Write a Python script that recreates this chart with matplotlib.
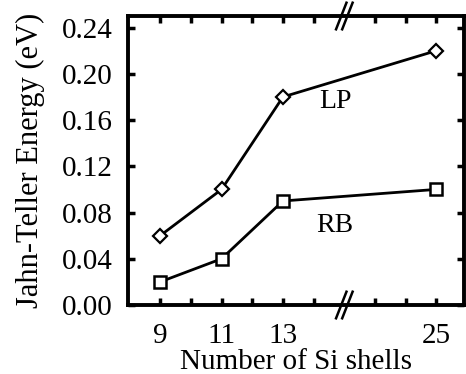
import matplotlib
matplotlib.use("Agg")
import matplotlib.pyplot as plt

# data
shells = [9, 11, 13, 25]
lp = [0.06, 0.10, 0.18, 0.22]
rb = [0.02, 0.04, 0.09, 0.10]
xtick_labels = ["9", "11", "13", "25"]
yticks = [0.00, 0.04, 0.08, 0.12, 0.16, 0.20, 0.24]

BREAK = 15  # axis break position; values above 14 are shifted left


def pos(x):
	return x if x <= 14 else x - 7


plt.rcParams["font.family"] = ["Liberation Serif", "DejaVu Serif"]

fig = plt.figure(figsize=(4.66, 3.74), dpi=100)
ax = fig.add_axes([128 / 466, 1 - 305 / 374, (464 - 128) / 466, (305 - 16) / 374])

xp = [pos(x) for x in shells]
ax.plot(xp, lp, color="black", lw=2, marker="D", ms=7, mfc="white", mec="black", mew=1.6)
ax.plot(xp, rb, color="black", lw=2, marker="s", ms=8.5, mfc="white", mec="black", mew=1.8)

ax.text(14.7, 0.176, "LP", fontsize=20, ha="center", va="center")
ax.text(14.7, 0.069, "RB", fontsize=20, ha="center", va="center")

ax.set_xlim(7.95, 18.9)
ax.set_ylim(0, 0.25)
ax.set_xticks(xp)
ax.set_xticklabels(xtick_labels)
ax.set_xticks([10, 12, 14, 16, 17], minor=True)
ax.set_yticks(yticks)
ax.set_yticklabels([f"{v:.2f}" for v in yticks])
ax.tick_params(axis="both", which="both", direction="in", top=True, right=True,
	labelsize=21, width=2.5, length=5)
ax.tick_params(axis="y", pad=11)
ax.tick_params(axis="x", pad=13)
for s in ax.spines.values():
	s.set_linewidth(2.8)

# break marks "//"
for yb in (0.0, 0.25):
	for dx in (-0.1, 0.1):
		ax.plot([BREAK + dx - 0.17, BREAK + dx + 0.17], [yb - 0.0115, yb + 0.0115],
			color="black", lw=1.8, clip_on=False, zorder=5)

ax.set_xlabel("Number of Si shells", fontsize=21, labelpad=0)
ax.set_ylabel("Jahn-Teller Energy (eV)", fontsize=22, labelpad=12)

fig.savefig("out.png", dpi=100)
